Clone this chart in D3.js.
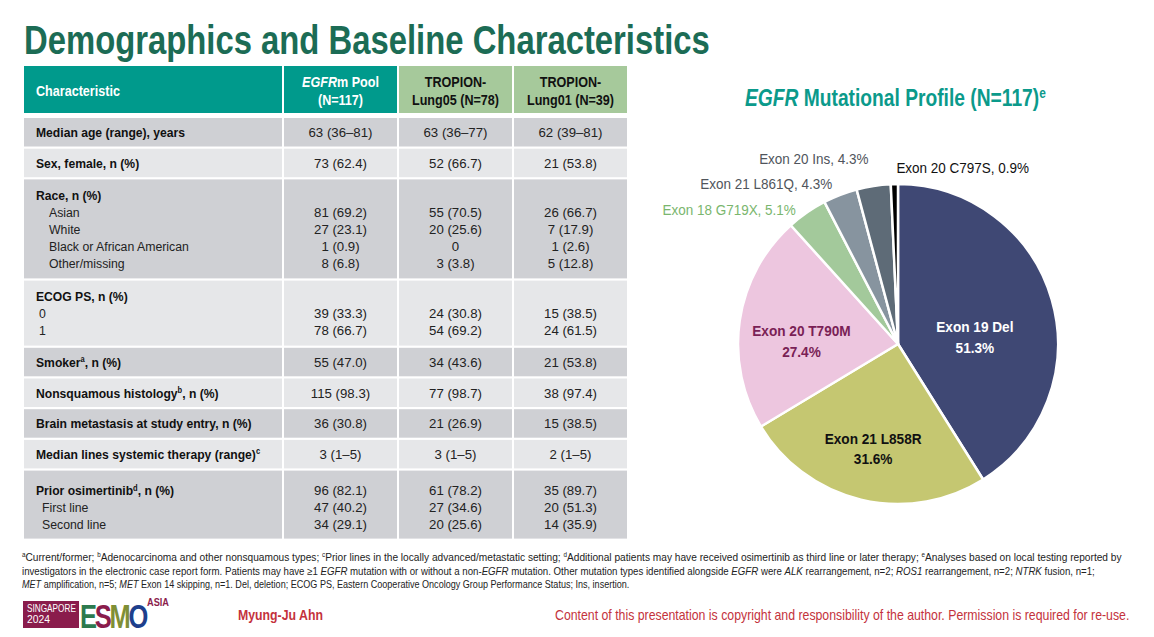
<!DOCTYPE html>
<html><head><meta charset="utf-8">
<script src="https://cdn.jsdelivr.net/npm/d3@7"></script>
<style>
body{margin:0;background:#fff}
svg{display:block}
text{font-family:"Liberation Sans","Arial",sans-serif}
</style>
</head><body>
<svg id="c" width="1154" height="637"></svg>
<script>
// ---------- DATA ----------
const slideTitle = "Demographics and Baseline Characteristics";
const headers = ["Characteristic", "_EGFR_m Pool|(N=117)", "TROPION-|Lung05 (N=78)", "TROPION-|Lung01 (N=39)"];
const rowTitles = ["Median age (range), years", "Sex, female, n (%)", "Race, n (%)", "ECOG PS, n (%)",
  "Smoker^a, n (%)", "Nonsquamous histology^b, n (%)", "Brain metastasis at study entry, n (%)",
  "Median lines systemic therapy (range)^c", "Prior osimertinib^d, n (%)"];
const rowSubs = [[], [], ["Asian", "White", "Black or African American", "Other/missing"], ["0", "1"], [], [], [], [], ["First line", "Second line"]];
const poolVals = [["63 (36–81)"], ["73 (62.4)"], ["", "81 (69.2)", "27 (23.1)", "1 (0.9)", "8 (6.8)"], ["", "39 (33.3)", "78 (66.7)"],
  ["55 (47.0)"], ["115 (98.3)"], ["36 (30.8)"], ["3 (1–5)"], ["96 (82.1)", "47 (40.2)", "34 (29.1)"]];
const lung05Vals = [["63 (36–77)"], ["52 (66.7)"], ["", "55 (70.5)", "20 (25.6)", "0", "3 (3.8)"], ["", "24 (30.8)", "54 (69.2)"],
  ["34 (43.6)"], ["77 (98.7)"], ["21 (26.9)"], ["3 (1–5)"], ["61 (78.2)", "27 (34.6)", "20 (25.6)"]];
const lung01Vals = [["62 (39–81)"], ["21 (53.8)"], ["", "26 (66.7)", "7 (17.9)", "1 (2.6)", "5 (12.8)"], ["", "15 (38.5)", "24 (61.5)"],
  ["21 (53.8)"], ["38 (97.4)"], ["15 (38.5)"], ["2 (1–5)"], ["35 (89.7)", "20 (51.3)", "14 (35.9)"]];

const pieTitle = "_EGFR_ Mutational Profile (N=117)^e";
const mutations = ["Exon 19 Del", "Exon 21 L858R", "Exon 20 T790M", "Exon 18 G719X", "Exon 21 L861Q", "Exon 20 Ins", "Exon 20 C797S"];
const mutationPct = [51.3, 31.6, 27.4, 5.1, 4.3, 4.3, 0.9];
const mutationColors = ["#3f4874", "#c5c771", "#edc6df", "#a3c99b", "#87949f", "#5e6b77", "#000000"];

const footnotes = [
  "^aCurrent/former; ^bAdenocarcinoma and other nonsquamous types; ^cPrior lines in the locally advanced/metastatic setting; ^dAdditional patients may have received osimertinib as third line or later therapy; ^eAnalyses based on local testing reported by",
  "investigators in the electronic case report form. Patients may have ≥1 _EGFR_ mutation with or without a non-_EGFR_ mutation. Other mutation types identified alongside _EGFR_ were _ALK_ rearrangement, n=2; _ROS1_ rearrangement, n=2; _NTRK_ fusion, n=1;",
  "_MET_ amplification, n=5; _MET_ Exon 14 skipping, n=1. Del, deletion; ECOG PS, Eastern Cooperative Oncology Group Performance Status; Ins, insertion."
];
const author = "Myung-Ju Ahn";
const copyright = "Content of this presentation is copyright and responsibility of the author. Permission is required for re-use.";

// ---------- HELPERS ----------
const svg = d3.select("#c");
svg.append("rect").attr("width", 1154).attr("height", 637).attr("fill", "#fff");

function rich(textSel, str) {
  const parts = str.split(/(\^[a-e]|_[^_]+_)/).filter(p => p.length);
  let pendingDown = 0;
  parts.forEach(p => {
    const t = textSel.append("tspan");
    if (p.startsWith("^")) {
      t.text(p.slice(1)).attr("font-size", "0.62em").attr("dy", "-0.55em");
      pendingDown = 1;
    } else {
      if (p.startsWith("_")) { t.text(p.slice(1, -1)).attr("font-style", "italic"); }
      else t.text(p);
      if (pendingDown) { t.attr("dy", "0.34em"); pendingDown = 0; }
    }
  });
  return textSel;
}
// condensed text: anchored at (x,y), horizontally scaled by k (or fitted to a width)
function ctext(parent, x, y, k, str, opts = {}) {
  const t = parent.append("text").attr("transform", `translate(${x},${y}) scale(${k},1)`)
    .attr("font-size", opts.size || 13.5).attr("fill", opts.fill || "#222")
    .attr("text-anchor", opts.anchor || "start");
  if (opts.bold) t.attr("font-weight", "bold");
  if (opts.dy) t.attr("dy", opts.dy);
  rich(t, str);
  if (opts.width) {
    const len = t.node().getComputedTextLength();
    t.attr("transform", `translate(${x},${y}) scale(${opts.width / len},1)`);
  }
  return t;
}

// ---------- TITLE ----------
ctext(svg, 24, 54, 1, slideTitle, { size: 40, bold: true, fill: "#1c6c55", width: 686 });

// ---------- TABLE ----------
const colX = [24, 284, 399, 514];
const colW = [258, 113, 113, 113];
const headerFill = ["#009a8c", "#009a8c", "#a6c99b", "#a6c99b"];
const headerText = ["#fff", "#fff", "#111", "#111"];
const headTop = 66, headH = 47;
const table = svg.append("g");
headers.forEach((h, i) => {
  table.append("rect").attr("x", colX[i]).attr("y", headTop).attr("width", colW[i]).attr("height", headH).attr("fill", headerFill[i]);
  const lines = h.split("|");
  lines.forEach((ln, j) => {
    ctext(table, i === 0 ? colX[i] + 12 : colX[i] + colW[i] / 2,
      headTop + headH / 2 + 1 + (j - (lines.length - 1) / 2) * 18, 0.9, ln,
      { size: 14, bold: true, fill: headerText[i], anchor: i === 0 ? "start" : "middle", dy: "0.36em" });
  });
});

const lineH = 17, gap = 2.2;
let y = 118;
const rowFills = ["#cfd0d4", "#e6e7e9"];
rowTitles.forEach((title, r) => {
  const n = 1 + rowSubs[r].length;
  const h = n === 1 ? 28.5 : (n - 1) * lineH + 31 + (r === 8 ? 3 : 0);
  const firstY = n === 1 ? y + h / 2 : y + 16 + (r === 8 ? 4 : 0);
  colX.forEach((x, c) => {
    table.append("rect").attr("x", x).attr("y", y).attr("width", colW[c]).attr("height", h).attr("fill", rowFills[r % 2]);
  });
  ctext(table, 36, firstY, 0.9, title, { size: 13.5, bold: true, fill: "#111", dy: "0.36em" });
  const indent = r === 2 ? 13 : (r === 3 ? 3 : 6);
  rowSubs[r].forEach((s, k) => {
    ctext(table, 36 + indent, firstY + (k + 1) * lineH, 0.91, s, { size: 13.5, fill: "#222", dy: "0.36em" });
  });
  [poolVals, lung05Vals, lung01Vals].forEach((vals, c) => {
    vals[r].forEach((v, k) => {
      if (!v) return;
      ctext(table, colX[c + 1] + colW[c + 1] / 2, firstY + k * lineH, 0.98, v,
        { size: 13.5, fill: "#222", anchor: "middle", dy: "0.36em" });
    });
  });
  y += h + gap;
});

// ---------- PIE ----------
const cx = 898, cy = 344, R = 160;
ctext(svg, 745, 98, 1, pieTitle, { size: 23, bold: true, fill: "#0b9a8b", dy: "0.36em", width: 301 });

const arcs = d3.pie().sort(null).value(d => d)(mutationPct);
const arc = d3.arc().innerRadius(0).outerRadius(R);
const pg = svg.append("g").attr("transform", `translate(${cx},${cy})`);
pg.selectAll("path").data(arcs).join("path").attr("d", arc)
  .attr("fill", (d, i) => mutationColors[i]).attr("stroke", "#fff").attr("stroke-width", 2.5).attr("stroke-linejoin", "round");

// inside labels
const inRad = [0.5, 0.67, 0.61];
const inDy = [15, 0, 11];
const inCol = ["#ffffff", "#111111", "#7a1f56"];
arcs.slice(0, 3).forEach((d, i) => {
  const c = d3.arc().innerRadius(R * inRad[i] * 2).outerRadius(0).centroid(d);
  [mutations[i], mutationPct[i].toFixed(1) + "%"].forEach((ln, j) => {
    ctext(pg, c[0], c[1] + inDy[i] + (j - 0.5) * 20.5, 0.88, ln,
      { size: 15.5, bold: true, fill: inCol[i], anchor: "middle", dy: "0.36em" });
  });
});

// outside labels
const outCol = ["#7ab66e", "#50555c", "#50555c", "#111111"];
const outDx = [-11, -8, -5, 2];
const outDy = [-3, -11, -27, -16];
const outAnchor = ["end", "end", "end", "start"];
arcs.slice(3).forEach((d, k) => {
  const i = k + 3;
  const p = d3.arc().innerRadius(R * 2).outerRadius(0).centroid(d);
  ctext(pg, p[0] + outDx[k], p[1] + outDy[k], 0.9, mutations[i] + ", " + mutationPct[i].toFixed(1) + "%",
    { size: 15, fill: outCol[k], anchor: outAnchor[k], dy: "0.36em" });
});

// ---------- FOOTNOTES ----------
const fnWidths = [1100, 1075, 608];
footnotes.forEach((f, i) => {
  ctext(svg, 22, 561 + i * 13.5, 1, f, { size: 10.5, fill: "#222", width: fnWidths[i] });
});

// ---------- FOOTER ----------
const logo = svg.append("g");
logo.append("rect").attr("x", 23).attr("y", 601).attr("width", 56).attr("height", 27).attr("fill", "#8a1c4c");
ctext(logo, 27, 611.5, 1, "SINGAPORE", { size: 10.5, fill: "#fff", width: 49 });
ctext(logo, 27, 623, 1, "2024", { size: 10.5, fill: "#fff", width: 23 });
const esmoLetters = ["E", "S", "M", "O"];
const esmoColors = ["#2c7a4e", "#8a1c4c", "#7f8f36", "#1e3f8c"];
const esmoText = logo.append("text").attr("transform", "translate(80,628) scale(0.8,1)")
  .attr("font-size", 34).attr("font-weight", "bold").attr("letter-spacing", -3);
esmoLetters.forEach((ch, i) => esmoText.append("tspan").attr("fill", esmoColors[i]).text(ch));
const eLen = esmoText.node().getComputedTextLength();
esmoText.attr("transform", `translate(80,628) scale(${66 / eLen},1)`);
ctext(logo, 147, 606, 1, "ASIA", { size: 11, bold: true, fill: "#8a1c4c", width: 22 });

ctext(svg, 238, 620, 1, author, { size: 14, bold: true, fill: "#c4323c", width: 85 });
ctext(svg, 555, 620, 1, copyright, { size: 14.5, fill: "#c4323c", width: 575 });
</script>
</body></html>
